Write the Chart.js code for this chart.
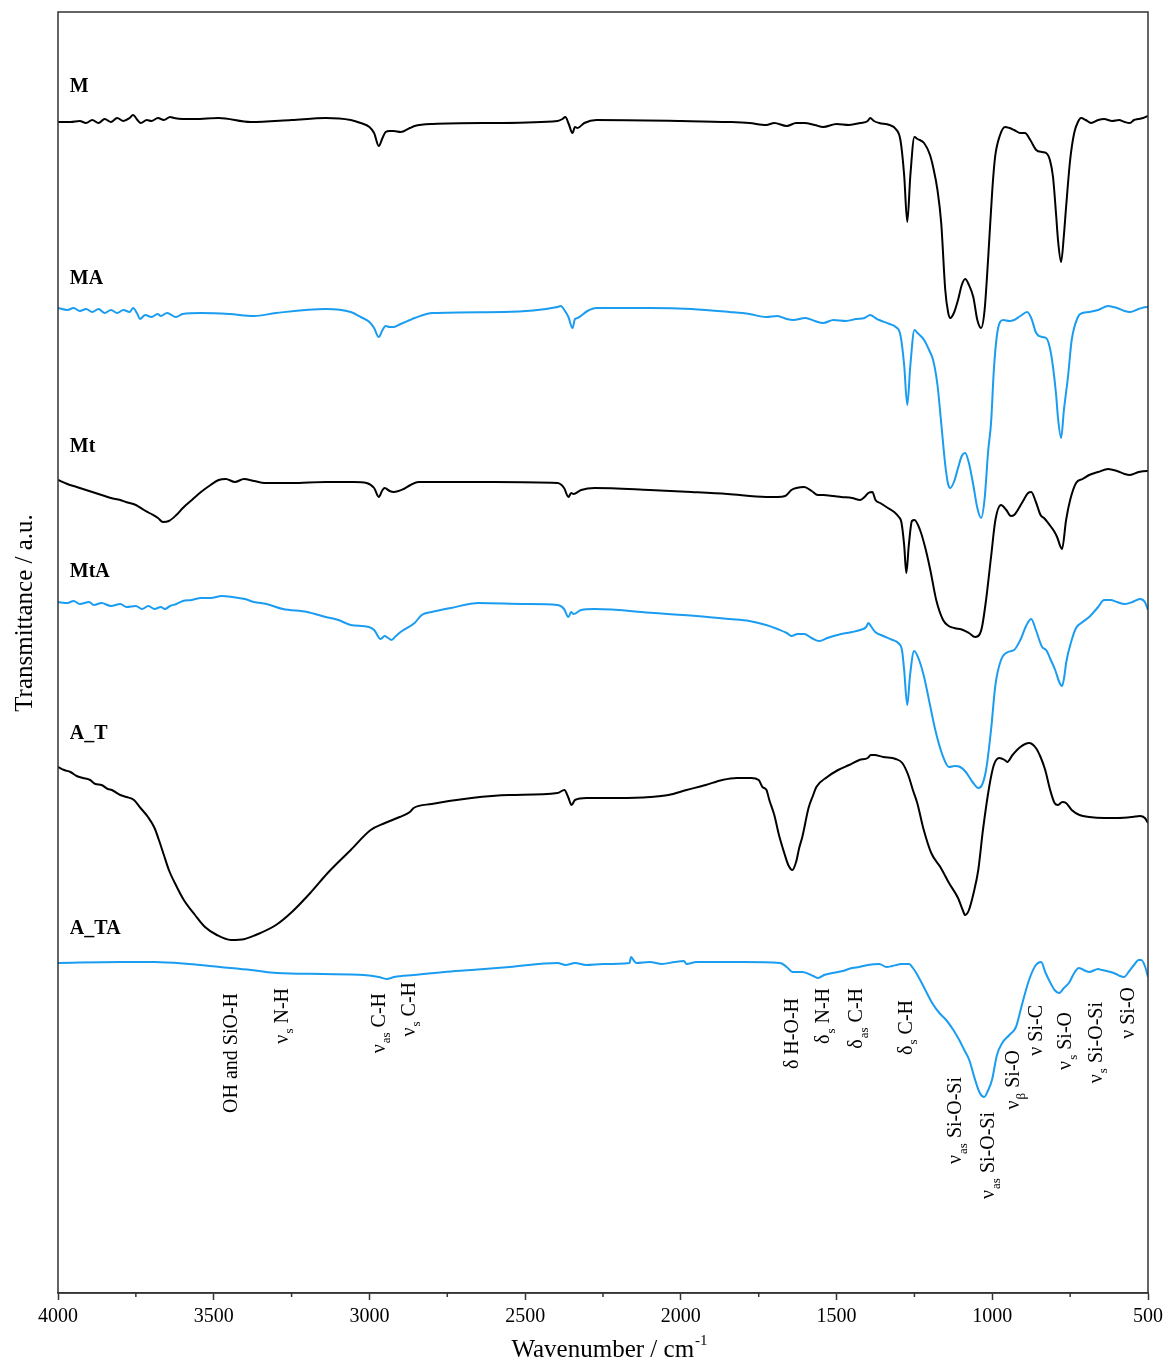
<!DOCTYPE html>
<html>
<head>
<meta charset="utf-8">
<script src="https://cdn.jsdelivr.net/npm/chart.js@4.4.1/dist/chart.umd.min.js"></script>
<style>
  body { margin: 0; background: #fff; }
  #box { width: 1168px; height: 1362px; position: relative; }
</style>
</head>
<body>
<div id="box"><canvas id="chartCanvas"></canvas></div>
<script>
// FTIR spectra, offset in transmittance (a.u.)

var mWn = [4000,3960,3930,3910,3890,3870,3850,3830,3810,3790,3770,3759,3745,3734,3715,3700,3679,3660,3640,3628,3600,3560,3484,3381,3250,3140,3060,3028,3000,2985,2970,2958,2948,2935,2922,2900,2870,2855,2797,2600,2396,2380,2371,2360,2348,2340,2332,2310,2271,2000,1844,1780,1726,1700,1660,1630,1604,1570,1543,1500,1460,1424,1400,1392,1380,1363,1330,1310,1295,1283,1273,1263,1250,1240,1219,1200,1190,1176,1164,1151,1142,1135,1122,1110,1098,1087,1075,1061,1048,1036,1025,1013,1000,991,975,959,945,930,910,895,878,859,840,827,815,805,795,789,779,770,763,750,737,725,715,700,683,660,641,615,593,575,558,545,532,515,500]
var mT = [117.1,117.1,117.2,117.0,117.3,117.0,117.4,117.1,117.5,117.2,117.5,117.8,117.3,117.0,117.3,117.2,117.5,117.3,117.6,117.5,117.4,117.4,117.5,117.1,117.3,117.5,117.3,117.0,116.6,116.0,114.7,115.5,116.1,116.2,116.2,116.1,116.5,116.7,116.9,117.0,117.2,117.4,117.6,116.9,116.0,116.6,116.5,117.0,117.3,117.2,117.1,117.0,116.8,117.0,116.7,117.0,117.0,116.8,116.6,116.9,116.8,117.0,117.2,117.5,117.2,117.0,116.8,116.4,115.3,111.8,107.1,111.8,115.6,115.4,115.0,113.8,112.6,110.3,107.0,100.3,98.1,97.5,98.1,99.3,100.8,101.4,100.8,99.6,97.3,96.5,98.2,103.6,110.3,113.6,115.8,116.6,116.5,116.3,116.0,116.0,115.3,114.3,114.1,114.0,113.3,111.6,107.8,105.3,103.1,105.8,108.6,113.3,116.0,117.1,117.5,117.3,117.0,117.3,117.4,117.2,117.3,117.1,117.0,117.3,117.4,117.5,117.7]

var maWn = [4000,3970,3950,3930,3910,3890,3870,3850,3830,3810,3790,3770,3759,3745,3737,3720,3700,3680,3670,3650,3621,3600,3541,3450,3371,3300,3140,3060,3028,3000,2985,2970,2958,2948,2935,2922,2900,2870,2855,2797,2569,2396,2386,2370,2361,2348,2340,2332,2300,2271,2100,1966,1844,1780,1726,1690,1660,1639,1600,1570,1543,1510,1470,1437,1410,1392,1375,1363,1330,1310,1295,1283,1273,1263,1250,1240,1219,1200,1190,1176,1164,1151,1142,1135,1122,1110,1098,1087,1075,1061,1048,1036,1025,1013,1004,995,985,975,965,945,930,910,888,875,859,840,827,815,805,795,789,779,770,757,745,725,710,689,660,628,600,575,558,530,503,500]
var maT = [98.5,98.3,98.5,98.2,98.4,98.1,98.4,98.0,98.3,98.0,98.3,98.1,98.5,97.9,97.4,97.8,97.6,97.9,97.7,98.0,97.6,97.9,98.0,97.9,97.7,98.0,98.4,98.1,97.6,97.1,96.5,95.6,96.3,96.7,96.6,96.6,96.9,97.3,97.5,98.0,98.1,98.6,98.7,98.1,97.6,96.5,97.4,97.5,98.2,98.5,98.5,98.4,98.1,97.9,97.6,97.7,97.4,97.3,97.5,97.2,97.0,97.3,97.2,97.4,97.5,97.8,97.5,97.3,96.9,96.6,95.8,92.8,88.8,92.8,96.3,96.0,95.3,94.1,93.3,90.8,87.0,82.8,80.9,80.5,81.2,82.5,83.7,84.0,83.0,80.8,78.5,77.5,79.3,84.3,87.0,92.3,95.8,97.1,97.3,97.2,97.3,97.7,98.1,97.5,96.0,95.6,95.5,94.5,92.6,89.8,87.5,85.5,88.3,91.6,95.3,97.6,98.0,98.1,98.3,98.7,98.5,98.2,98.1,98.4,98.6,98.6]

var mtWn = [4000,3970,3940,3910,3880,3850,3830,3800,3782,3750,3724,3700,3679,3663,3644,3620,3599,3570,3541,3510,3484,3461,3432,3403,3370,3336,3250,3140,3050,3009,2985,2970,2958,2951,2935,2922,2890,2868,2842,2600,2396,2375,2361,2352,2345,2320,2277,2100,1966,1850,1726,1690,1665,1645,1629,1604,1580,1560,1543,1510,1485,1450,1424,1410,1398,1385,1375,1360,1340,1315,1300,1292,1283,1276,1268,1258,1250,1232,1215,1199,1180,1158,1140,1122,1094,1075,1055,1040,1033,1020,1004,990,972,955,940,930,905,885,875,860,845,834,811,800,792,776,763,750,731,710,689,660,628,600,575,558,530,503,500]
var mtT = [81.3,80.9,80.6,80.3,80.0,79.7,79.5,79.3,79.1,78.8,78.3,77.9,77.5,77.1,77.2,77.8,78.5,79.3,80.1,80.8,81.3,81.4,81.1,81.4,81.2,81.0,81.0,81.1,81.1,81.0,80.5,79.6,80.3,80.5,80.2,80.1,80.4,80.8,81.1,81.1,81.0,80.5,79.6,80.0,79.9,80.3,80.5,80.3,80.1,79.9,79.6,79.6,79.7,80.3,80.5,80.6,80.2,79.8,79.8,79.7,79.6,79.5,79.3,79.6,80.0,80.1,79.3,79.0,78.6,78.1,77.6,77.1,74.8,72.0,74.8,77.2,77.3,76.3,74.5,72.3,69.3,67.3,66.7,66.5,66.3,66.0,65.6,65.9,66.6,69.3,73.6,77.3,78.8,78.3,77.7,77.8,79.0,80.0,80.1,79.1,77.8,77.5,76.6,76.1,75.6,74.4,77.3,79.3,81.0,81.4,81.8,82.1,82.4,82.2,81.9,81.8,82.1,82.2,82.2]

var mtaWn = [4000,3970,3950,3930,3900,3885,3860,3830,3800,3780,3750,3730,3710,3690,3670,3657,3640,3620,3599,3570,3541,3510,3474,3440,3400,3371,3330,3278,3200,3140,3100,3060,3002,2985,2964,2951,2940,2929,2915,2900,2855,2832,2800,2739,2649,2500,2396,2375,2361,2352,2345,2320,2277,2085,1950,1844,1780,1726,1690,1660,1645,1625,1604,1580,1556,1530,1510,1485,1450,1424,1405,1398,1390,1376,1350,1320,1302,1290,1283,1273,1264,1251,1235,1219,1200,1183,1160,1139,1120,1103,1085,1061,1045,1033,1020,1004,990,972,950,930,910,890,875,860,840,827,812,798,785,776,768,763,745,731,710,689,660,641,620,600,574,550,526,510,500]
var mtaT = [69.1,69.0,69.2,68.9,69.1,68.8,69.0,68.7,68.9,68.6,68.7,68.4,68.7,68.4,68.6,68.4,68.7,68.9,69.2,69.3,69.5,69.5,69.7,69.6,69.4,69.1,68.9,68.4,68.1,67.6,67.3,66.8,66.6,66.3,65.4,65.7,65.5,65.3,65.7,66.1,67.0,67.8,68.1,68.5,69.0,68.9,68.8,68.4,67.6,68.1,67.9,68.3,68.4,68.0,67.7,67.4,67.2,66.8,66.4,66.0,65.7,65.9,65.9,65.5,65.2,65.5,65.7,65.9,66.1,66.3,66.6,67.0,66.7,66.1,65.7,65.3,65.0,64.3,62.3,58.8,61.8,64.2,63.3,61.6,58.8,56.3,53.8,52.6,52.7,52.6,52.1,51.0,50.5,50.8,52.3,56.3,60.8,63.3,64.1,64.3,65.3,66.8,67.4,66.3,64.6,64.3,63.3,62.3,61.1,60.7,61.8,63.0,65.3,66.5,67.1,67.6,68.6,69.3,69.3,69.1,68.9,69.1,69.4,69.1,68.3]

var atWn = [4000,3980,3960,3940,3920,3897,3880,3860,3840,3827,3800,3780,3756,3735,3711,3690,3676,3660,3644,3620,3596,3560,3528,3490,3445,3400,3365,3300,3249,3190,3134,3060,2996,2950,2903,2870,2858,2800,2672,2550,2396,2374,2362,2351,2340,2303,2200,2098,2040,1982,1920,1867,1820,1774,1750,1738,1725,1716,1700,1685,1668,1655,1642,1630,1620,1610,1590,1575,1565,1530,1495,1460,1427,1400,1390,1379,1350,1310,1289,1270,1255,1241,1220,1196,1165,1139,1110,1095,1087,1075,1060,1045,1030,1010,995,978,960,952,935,910,882,860,845,830,815,800,789,775,763,745,720,689,640,596,550,526,510,500]
var atT = [52.6,52.3,52.1,51.7,51.5,51.3,50.9,50.8,50.4,50.3,49.8,49.6,49.3,48.5,47.6,46.5,45.3,43.8,42.3,40.7,39.3,37.8,36.6,35.8,35.3,35.4,35.8,36.8,38.1,40.0,42.0,44.3,46.3,47.0,47.6,48.1,48.5,48.9,49.5,49.8,50.0,50.3,49.6,48.8,49.3,49.5,49.5,49.6,49.8,50.3,50.8,51.3,51.5,51.5,51.3,50.6,50.3,49.3,47.8,45.8,44.0,42.8,42.3,43.1,44.5,45.6,48.5,49.8,50.6,51.6,52.3,52.8,53.3,53.5,53.8,53.8,53.6,53.4,53.0,51.8,50.3,49.0,46.3,44.0,42.5,41.0,39.5,38.3,37.8,38.3,40.0,42.3,46.3,50.6,52.8,53.5,53.3,53.1,53.8,54.6,55.0,54.5,53.6,52.3,50.4,49.0,48.8,49.1,49.0,48.3,47.8,47.6,47.5,47.5,47.6,47.7,47.5,47.0]

var ataWn = [4000,3800,3689,3580,3480,3380,3297,3150,3018,2970,2945,2920,2858,2760,2672,2550,2396,2370,2340,2303,2250,2165,2160,2150,2143,2100,2060,2020,1990,1982,1950,1800,1681,1660,1642,1610,1575,1559,1540,1514,1480,1450,1427,1400,1363,1340,1321,1290,1267,1255,1244,1220,1193,1170,1148,1125,1106,1090,1074,1055,1040,1026,1013,1001,985,968,945,924,905,882,860,843,830,818,800,786,770,754,735,722,700,689,660,648,620,603,590,577,560,545,530,522,510,500]
var ataT = [33.0,33.1,33.1,32.9,32.6,32.3,32.0,31.9,31.8,31.6,31.4,31.6,31.8,32.1,32.3,32.6,33.0,32.8,33.0,32.8,32.9,33.0,33.6,33.2,33.0,33.1,32.9,33.1,33.2,32.9,33.1,33.1,33.0,32.6,32.1,32.1,31.7,31.5,31.8,32.0,32.2,32.5,32.6,32.8,32.9,32.6,32.7,32.9,32.9,32.5,32.0,30.6,29.0,28.0,27.3,26.3,25.3,24.3,23.3,21.3,20.0,19.6,20.3,21.3,23.8,25.0,25.8,26.6,28.8,31.3,32.8,33.1,32.1,31.3,30.3,30.0,30.5,31.0,32.1,32.5,32.2,32.1,32.4,32.3,32.1,31.9,31.7,31.6,32.2,32.8,33.3,33.3,32.7,31.6]

var seriesNames = ['M', 'MA', 'Mt', 'MtA', 'A_T', 'A_TA']
var seriesWn = [mWn, maWn, mtWn, mtaWn, atWn, ataWn]
var seriesT = [mT, maT, mtT, mtaT, atT, ataT]
var seriesColors = ['#000000', '#1a9cf0', '#000000', '#1a9cf0', '#000000', '#1a9cf0']
var nameLabelT = [120.6, 101.4, 84.6, 72.1, 55.9, 36.4]

// band assignments (rotated text)
var bandPre = ['', 'ν', 'ν', 'ν', 'δ', 'δ', 'δ', 'δ', 'ν', 'ν', 'ν', 'ν', 'ν', 'ν', 'ν']
var bandSub = ['', 's', 'as', 's', '', 's', 'as', 's', 'as', 'as', 'β', '', 's', 's', '']
var bandRest = ['OH and SiO-H', ' N-H', ' C-H', ' C-H', ' H-O-H', ' N-H', ' C-H', ' C-H', ' Si-O-Si', ' Si-O-Si', ' Si-O', ' Si-C', ' Si-O', ' Si-O-Si', ' Si-O']
var bandWn = [3442, 3278, 2967, 2871, 1642, 1540, 1434, 1276, 1116, 1010, 930, 856, 763, 664, 561]
var bandTop = [30.0, 30.5, 30.0, 31.1, 29.5, 30.5, 30.5, 29.3, 21.6, 18.1, 24.3, 28.8, 28.1, 29.1, 30.6]

var serif = '"Liberation Serif", "Times New Roman", serif'

var datasets = seriesNames.map(function(name, k) {
    return {
        label: name,
        data: seriesWn[k].map(function(w, i) { return { x: w, y: seriesT[k][i] } }),
        borderColor: seriesColors[k],
        borderWidth: 2,
        pointRadius: 0,
        fill: false,
        cubicInterpolationMode: 'monotone'
    }
})

var extras = {
    id: 'extras',
    afterDraw: function(chart) {
        var ctx = chart.ctx
        var a = chart.chartArea
        var xs = chart.scales.x
        var ys = chart.scales.y
        ctx.save()

        // frame
        ctx.strokeStyle = '#333'
        ctx.lineWidth = 1.5
        ctx.strokeRect(a.left, a.top, a.right - a.left, a.bottom - a.top)

        // minor ticks
        for (var v = 750; v < 4000; v += 500) {
            var px = xs.getPixelForValue(v)
            ctx.beginPath()
            ctx.moveTo(px, a.bottom)
            ctx.lineTo(px, a.bottom + 4)
            ctx.stroke()
        }

        ctx.fillStyle = '#000'

        // sample names
        ctx.font = 'bold 20px ' + serif
        ctx.textAlign = 'left'
        ctx.textBaseline = 'middle'
        seriesNames.forEach(function(n, k) {
            ctx.fillText(n, xs.getPixelForValue(3962), ys.getPixelForValue(nameLabelT[k]))
        })

        // band labels
        var big = '20px ' + serif
        var small = '13px ' + serif
        bandRest.forEach(function(rest, i) {
            ctx.save()
            ctx.translate(xs.getPixelForValue(bandWn[i]), ys.getPixelForValue(bandTop[i]))
            ctx.rotate(-Math.PI / 2)
            ctx.textAlign = 'left'
            ctx.textBaseline = 'middle'
            ctx.font = big
            var w1 = ctx.measureText(bandPre[i]).width
            var w3 = ctx.measureText(rest).width
            ctx.font = small
            var w2 = bandSub[i] ? ctx.measureText(bandSub[i]).width + 1 : 0
            var pos = -(w1 + w2 + w3)
            ctx.font = big
            ctx.fillText(bandPre[i], pos, 0)
            pos += w1
            if (bandSub[i]) {
                ctx.font = small
                ctx.fillText(bandSub[i], pos + 1, 7)
                pos += w2
            }
            ctx.font = big
            ctx.fillText(rest, pos, 0)
            ctx.restore()
        })

        // x title
        ctx.textBaseline = 'alphabetic'
        ctx.font = '25px ' + serif
        var t1 = 'Wavenumber / cm'
        var tw = ctx.measureText(t1).width
        ctx.font = '15px ' + serif
        var sw = ctx.measureText('-1').width
        var cx = (a.left + a.right) / 2 + 6
        var sx = cx - (tw + sw) / 2
        ctx.font = '25px ' + serif
        ctx.fillText(t1, sx, 1357)
        ctx.font = '15px ' + serif
        ctx.fillText('-1', sx + tw + 1, 1345)

        // y title
        ctx.save()
        ctx.translate(25, 613)
        ctx.rotate(-Math.PI / 2)
        ctx.font = '25px ' + serif
        ctx.textAlign = 'center'
        ctx.textBaseline = 'middle'
        ctx.fillText('Transmittance / a.u.', 0, 0)
        ctx.restore()

        ctx.restore()
    }
}

var canvas = document.getElementById('chartCanvas')
var myChart = new Chart(canvas.getContext('2d'), {
    type: 'line',
    data: { datasets: datasets },
    options: {
        responsive: true,
        maintainAspectRatio: false,
        animation: false,
        layout: { padding: { left: 58, right: 19, top: 12, bottom: 0 } },
        plugins: { legend: { display: false }, tooltip: { enabled: false } },
        scales: {
            x: {
                type: 'linear',
                min: 500,
                max: 4000,
                reverse: true,
                ticks: {
                    stepSize: 500,
                    autoSkip: false,
                    maxRotation: 0,
                    color: '#000',
                    padding: 5,
                    font: { family: serif, size: 20 },
                    callback: function(v) { return v }
                },
                grid: { drawOnChartArea: false, drawTicks: true, tickLength: 7, tickColor: '#333', tickWidth: 1.5 },
                border: { display: true, color: '#333', width: 1.5 },
                afterFit: function(s) { s.height = 69 }
            },
            y: { display: false, min: 0, max: 128.1 }
        }
    },
    plugins: [extras]
})
</script>
</body>
</html>
